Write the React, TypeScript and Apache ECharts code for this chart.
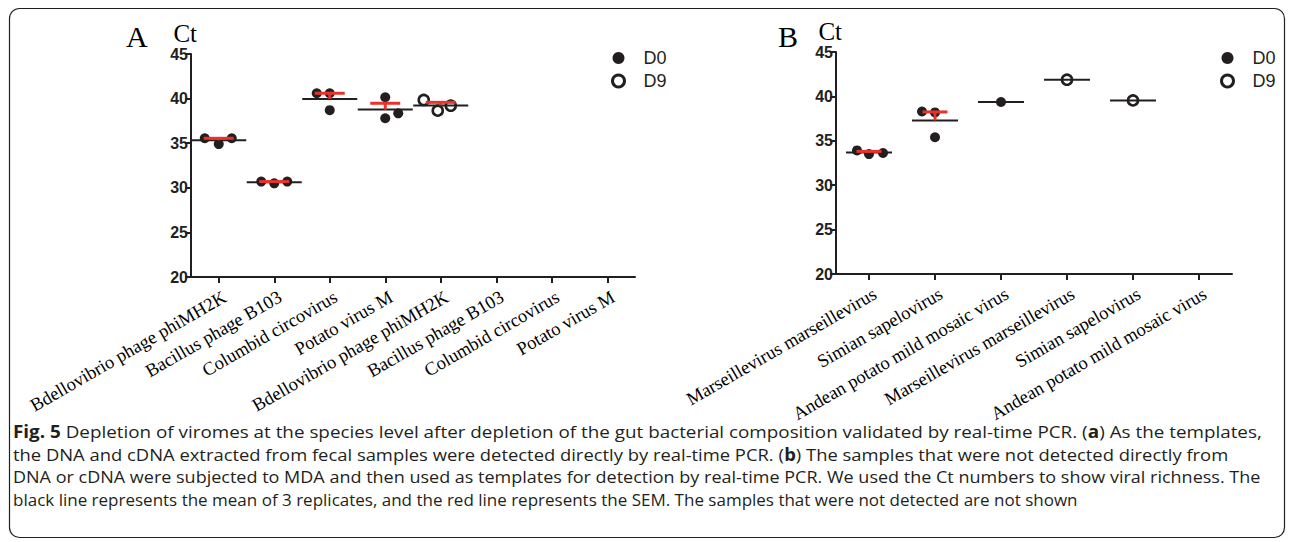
import React, { useEffect, useRef } from "react";
import * as echarts from "echarts";

// ---------- data ----------
const catsA = [
  "Bdellovibrio phage phiMH2K",
  "Bacillus phage B103",
  "Columbid circovirus",
  "Potato virus M",
  "Bdellovibrio phage phiMH2K",
  "Bacillus phage B103",
  "Columbid circovirus",
  "Potato virus M",
];
const dayA = ["D0", "D0", "D0", "D0", "D9", "D9", "D9", "D9"];
const ctA = [
  [35.55, 34.9, 35.55],
  [30.7, 30.5, 30.7],
  [40.6, 40.6, 38.7],
  [40.15, 37.8, 38.35],
  [39.85, 38.65, 39.2],
  [],
  [],
  [],
];
const jitterA = [[-14, 0, 13], [-13, 0, 13], [-13, 0, 0], [0, 0, 13], [-17, -3, 10], [], [], []];

const catsB = [
  "Marseillevirus marseillevirus",
  "Simian sapelovirus",
  "Andean potato mild mosaic virus",
  "Marseillevirus marseillevirus",
  "Simian sapelovirus",
  "Andean potato mild mosaic virus",
];
const dayB = ["D0", "D0", "D0", "D9", "D9", "D9"];
const ctB = [[33.92, 33.5, 33.63], [38.3, 38.2, 35.4], [39.37], [41.88], [39.55], []];
const jitterB = [[-12, 0, 14], [-13, 0, 0], [0], [0], [0], []];

const yMin = 20;
const yMax = 45;
const yStep = 5;
const legendNames = ["D0", "D9"];

const captionLines = [
  "{b|Fig. 5} Depletion of viromes at the species level after depletion of the gut bacterial composition validated by real-time PCR. ({b|a}) As the templates,",
  "the DNA and cDNA extracted from fecal samples were detected directly by real-time PCR. ({b|b}) The samples that were not detected directly from",
  "DNA or cDNA were subjected to MDA and then used as templates for detection by real-time PCR. We used the Ct numbers to show viral richness. The",
  "black line represents the mean of 3 replicates, and the red line represents the SEM. The samples that were not detected are not shown",
];
const captionRight = [1262, 1228, 1262, 0];

// ---------- helpers ----------
const INK = "#231f20";
const RED = "#e8322a";
const CAP_FONT = "Open Sans";
const CAP_SIZE = 17;

function meanSem(v: number[]) {
  const n = v.length;
  const m = v.reduce((a, b) => a + b, 0) / n;
  if (n < 2) return [m, m];
  const sd = Math.sqrt(v.reduce((a, b) => a + (b - m) * (b - m), 0) / (n - 1));
  return [m, m + sd / Math.sqrt(n)];
}

function measureRich(line: string) {
  const c = document.createElement("canvas").getContext("2d");
  if (!c) return 0;
  let w = 0;
  const parts = line.split(/(\{b\|[^}]*\})/);
  for (const p of parts) {
    if (!p) continue;
    const m = p.match(/^\{b\|([^}]*)\}$/);
    if (m) {
      c.font = `bold ${CAP_SIZE}px '${CAP_FONT}'`;
      w += c.measureText(m[1]).width;
    } else {
      c.font = `${CAP_SIZE}px '${CAP_FONT}'`;
      w += c.measureText(p).width;
    }
  }
  return w;
}

function panelSeries(
  idx: number,
  ct: number[][],
  days: string[],
  jit: number[][],
  meanHalf: number,
  capHalf: number
) {
  const mk = (day: string) =>
    ct.flatMap((vals, i) =>
      days[i] === day ? vals.map((v, j) => ({ value: [i, v], symbolOffset: [jit[i][j] || 0, 0] })) : []
    );
  const stats = ct
    .map((vals, i) => (vals.length ? [i, ...meanSem(vals)] : null))
    .filter((d) => d !== null);
  return [
    {
      type: "scatter",
      name: "D0",
      xAxisIndex: idx,
      yAxisIndex: idx,
      symbol: "circle",
      symbolSize: 10,
      itemStyle: { color: INK, opacity: 1 },
      data: mk("D0"),
      z: 2,
      silent: true,
    },
    {
      type: "scatter",
      name: "D9",
      xAxisIndex: idx,
      yAxisIndex: idx,
      symbol: "circle",
      symbolSize: 10,
      itemStyle: { color: "rgba(255,255,255,0)", borderColor: INK, borderWidth: 2.6, opacity: 1 },
      data: mk("D9"),
      z: 2,
      silent: true,
    },
    {
      type: "custom",
      name: "mean",
      xAxisIndex: idx,
      yAxisIndex: idx,
      coordinateSystem: "cartesian2d",
      encode: { x: 0, y: 1 },
      data: stats,
      z: 3,
      silent: true,
      renderItem: (params: any, api: any) => {
        const x = api.value(0);
        const m = api.value(1);
        const top = api.value(2);
        const p = api.coord([x, m]);
        const q = api.coord([x, top]);
        const children: any[] = [
          {
            type: "line",
            shape: { x1: p[0] - meanHalf, y1: p[1], x2: p[0] + meanHalf, y2: p[1] },
            style: { stroke: INK, lineWidth: 2 },
          },
        ];
        if (p[1] - q[1] > 0.5) {
          children.push(
            {
              type: "line",
              shape: { x1: q[0], y1: q[1], x2: p[0], y2: p[1] },
              style: { stroke: RED, lineWidth: 3 },
            },
            {
              type: "line",
              shape: { x1: q[0] - capHalf, y1: q[1], x2: q[0] + capHalf, y2: q[1] },
              style: { stroke: RED, lineWidth: 3 },
            }
          );
        }
        return { type: "group", children };
      },
    },
  ];
}

function xAxis(idx: number, cats: string[]) {
  return {
    type: "category",
    gridIndex: idx,
    data: cats,
    boundaryGap: true,
    axisLine: { show: true, lineStyle: { color: INK, width: 2 } },
    axisTick: { show: true, alignWithLabel: true, length: 6, lineStyle: { color: INK, width: 2 } },
    axisLabel: {
      interval: 0,
      rotate: 30,
      margin: 22,
      align: "right",
      verticalAlign: "middle",
      padding: [0, -7, 0, 0],
      color: "#000",
      fontFamily: "Liberation Serif",
      fontSize: 18.5,
    },
    splitLine: { show: false },
  };
}

function yAxis(idx: number) {
  return {
    type: "value",
    gridIndex: idx,
    min: yMin,
    max: yMax,
    interval: yStep,
    name: "Ct",
    nameLocation: "end",
    nameGap: -4,
    nameTextStyle: {
      fontFamily: "Liberation Serif",
      fontSize: 25,
      color: "#000",
      align: "right",
      verticalAlign: "bottom",
      padding: [0, -6, 0, 0],
    },
    axisLine: { show: true, lineStyle: { color: INK, width: 2 } },
    axisTick: { show: true, length: 6, lineStyle: { color: INK, width: 2 } },
    axisLabel: {
      margin: 3,
      color: INK,
      fontFamily: "Liberation Sans",
      fontWeight: "bold",
      fontSize: 16,
    },
    splitLine: { show: false },
  };
}

function legend(left: number) {
  return {
    left,
    top: 49,
    padding: 0,
    orient: "vertical",
    itemWidth: 12,
    itemHeight: 12,
    itemGap: 5,
    selectedMode: false,
    data: legendNames.map((n, i) =>
      i === 0
        ? { name: n, icon: "circle", itemStyle: { color: INK, opacity: 1 } }
        : {
            name: n,
            icon: "circle",
            itemStyle: { color: "rgba(255,255,255,0)", borderColor: INK, borderWidth: 3, opacity: 1 },
          }
    ),
    textStyle: { fontFamily: "Liberation Sans", fontSize: 18, color: INK, padding: [0, 0, 0, 14] },
  };
}

function buildOption() {
  const left = 13;
  return {
    animation: false,
    backgroundColor: "#ffffff",
    grid: [
      { left: 191, top: 54, width: 444, height: 223 },
      { left: 836, top: 52, width: 396, height: 222 },
    ],
    xAxis: [xAxis(0, catsA), xAxis(1, catsB)],
    yAxis: [yAxis(0), yAxis(1)],
    legend: [legend(611), legend(1220)],
    series: [
      ...panelSeries(0, ctA, dayA, jitterA, 27.5, 15),
      ...panelSeries(1, ctB, dayB, jitterB, 23, 12.5),
    ],
    graphic: [
      {
        type: "rect",
        shape: { x: 9.5, y: 8.5, width: 1275, height: 529, r: 10 },
        style: { fill: "none", stroke: INK, lineWidth: 1.2 },
        silent: true,
      },
      {
        type: "text",
        left: 126,
        top: 21,
        style: { text: "A", fontFamily: "Liberation Serif", fontSize: 30, fill: "#000" },
      },
      {
        type: "text",
        left: 778,
        top: 21,
        style: { text: "B", fontFamily: "Liberation Serif", fontSize: 30, fill: "#000" },
      },
      ...captionLines.map((t, i) => {
        const natural = measureRich(t);
        const target = captionRight[i] ? captionRight[i] - left : 0;
        const sx = target && natural ? target / natural : 1;
        return {
          type: "text",
          x: left,
          y: 423 + i * 22.5,
          scaleX: sx,
          style: {
            text: t,
            fontFamily: CAP_FONT,
            fontSize: CAP_SIZE,
            fill: INK,
            verticalAlign: "top",
            rich: { b: { fontFamily: CAP_FONT, fontSize: CAP_SIZE, fontWeight: "bold", fill: INK } },
          },
        };
      }),
    ],
  };
}

export default function App() {
  const ref = useRef<HTMLDivElement>(null);
  useEffect(() => {
    if (!ref.current) return;
    const chart = echarts.init(ref.current, null, { renderer: "svg", width: 1290, height: 542 });
    chart.setOption(buildOption() as any);
    return () => chart.dispose();
  }, []);
  return (
    <div
      ref={ref}
      style={{ position: "absolute", left: 0, top: 0, width: 1290, height: 542, background: "#fff" }}
    />
  );
}
